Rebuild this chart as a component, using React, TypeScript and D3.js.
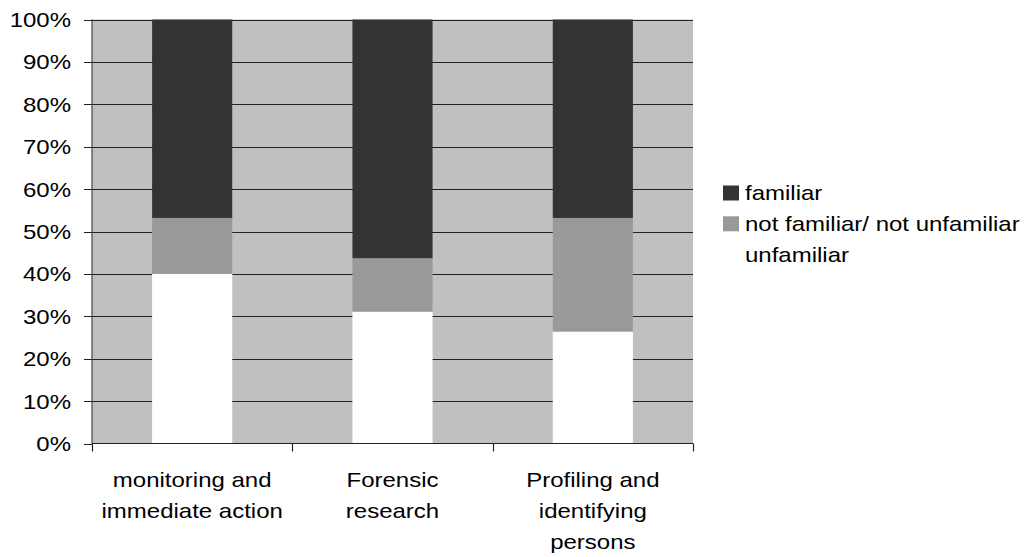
import { useEffect, useRef } from 'react'
import * as d3 from 'd3'

const W = 1034, H = 557
const PL = 92, PR = 693, PT = 19.5, PB = 443.5
const SX = 1.2 // text in the source is stretched horizontally
const FONT = 'Liberation Sans, Arial, sans-serif'

const categories = [
  ['monitoring and', 'immediate action'],
  ['Forensic', 'research'],
  ['Profiling and', 'identifying', 'persons'],
]
const seriesKeys = ['unfamiliar', 'neutral', 'familiar']
const unfamiliar = [40, 31.1, 26.4]
const neutral = [13.2, 12.6, 26.8]
const familiar = [46.8, 56.3, 46.8]
const yTicks = [0, 10, 20, 30, 40, 50, 60, 70, 80, 90, 100]
const legendItems = [
  { label: 'familiar', color: '#333333' },
  { label: 'not familiar/ not unfamiliar', color: '#999999' },
  { label: 'unfamiliar', color: '#ffffff' },
]
const colors: Record<string, string> = { unfamiliar: '#ffffff', neutral: '#999999', familiar: '#333333' }

export default function App() {
  const svgRef = useRef<SVGSVGElement>(null)

  useEffect(() => {
    const svg = d3.select(svgRef.current!)
    svg.selectAll('*').remove()

    const rows = categories.map((_, i) => ({
      idx: String(i), unfamiliar: unfamiliar[i], neutral: neutral[i], familiar: familiar[i],
    }))
    const x = d3.scaleBand<string>().domain(rows.map(r => r.idx)).range([PL, PR])
      .paddingInner(0.6).paddingOuter(0.3)
    const y = d3.scaleLinear().domain([0, 100]).range([PB, PT])
    const step = (PR - PL) / categories.length

    // plot background
    svg.append('rect').attr('x', PL).attr('y', PT).attr('width', PR - PL).attr('height', PB - PT)
      .attr('fill', '#c0c0c0')

    // gridlines
    svg.append('g').selectAll('line').data(yTicks.slice(1)).join('line')
      .attr('x1', PL).attr('x2', PR).attr('y1', d => Math.round(y(d)) + 0.5).attr('y2', d => Math.round(y(d)) + 0.5)
      .attr('stroke', '#222').attr('stroke-width', 1.2)

    // stacked bars
    const stack = d3.stack<any>().keys(seriesKeys)(rows)
    stack.forEach(layer => {
      svg.append('g').selectAll('rect').data(layer).join('rect')
        .attr('x', d => x(d.data.idx)!)
        .attr('width', x.bandwidth())
        .attr('y', d => y(d[1]))
        .attr('height', d => y(d[0]) - y(d[1]))
        .attr('fill', colors[layer.key])
    })

    // axes
    svg.append('line').attr('x1', PL).attr('x2', PL).attr('y1', PT).attr('y2', PB)
      .attr('stroke', '#444').attr('stroke-width', 1.2)
    svg.append('line').attr('x1', PL).attr('x2', PR).attr('y1', PB).attr('y2', PB)
      .attr('stroke', '#222').attr('stroke-width', 1.2)

    svg.append('g').selectAll('line').data(yTicks).join('line')
      .attr('x1', PL - 8).attr('x2', PL).attr('y1', d => Math.round(y(d)) + 0.5).attr('y2', d => Math.round(y(d)) + 0.5)
      .attr('stroke', '#222')
    svg.append('g').selectAll('text').data(yTicks).join('text')
      .attr('transform', d => `translate(71,${y(d) + 7.5}) scale(${SX},1)`)
      .attr('text-anchor', 'end').attr('font-size', 20).attr('font-family', FONT).attr('fill', '#000')
      .text(d => `${d}%`)

    const bounds = d3.range(categories.length + 1).map(i => PL + i * step)
    svg.append('g').selectAll('line').data(bounds).join('line')
      .attr('x1', d => Math.round(d) + 0.5).attr('x2', d => Math.round(d) + 0.5)
      .attr('y1', PB).attr('y2', PB + 8).attr('stroke', '#222').attr('stroke-width', 1.2)

    // category labels
    categories.forEach((lines, i) => {
      const cx = x(String(i))! + x.bandwidth() / 2
      lines.forEach((ln, j) => {
        svg.append('text')
          .attr('transform', `translate(${cx},${487 + j * 31}) scale(${SX},1)`)
          .attr('text-anchor', 'middle').attr('font-size', 20).attr('font-family', FONT).attr('fill', '#000')
          .text(ln)
      })
    })

    // legend
    const lg = svg.append('g')
    legendItems.forEach((it, i) => {
      const by = 200 + i * 30.8
      lg.append('rect').attr('x', 723).attr('y', by - 7.5 - 7).attr('width', 16).attr('height', 15)
        .attr('fill', it.color)
      lg.append('text')
        .attr('transform', `translate(745,${by}) scale(${SX},1)`)
        .attr('font-size', 20).attr('font-family', FONT).attr('fill', '#000')
        .text(it.label)
    })
  }, [])

  return (
    <svg ref={svgRef} width={W} height={H}
      style={{ position: 'absolute', left: 0, top: 0, background: '#fff' }} />
  )
}
